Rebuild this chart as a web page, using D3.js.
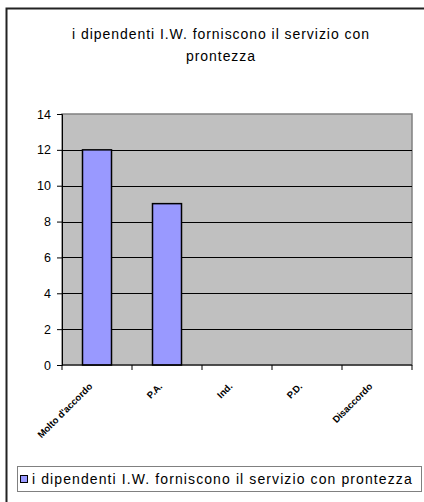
<!DOCTYPE html>
<html>
<head>
<meta charset="utf-8">
<script src="https://cdn.jsdelivr.net/npm/d3@7/dist/d3.min.js"></script>
<style>
body { margin:0; background:#fff; }
text { font-family: "Liberation Sans", Arial, sans-serif; }
</style>
</head>
<body>
<div id="chart"></div>
<script>
var categorie = ["Molto d'accordo", "P.A.", "Ind.", "P.D.", "Disaccordo"];
var valori = [12, 9, 0, 0, 0];
var yTicks = [0, 2, 4, 6, 8, 10, 12, 14];
var titolo = ["i dipendenti I.W. forniscono il servizio con", "prontezza"];
var serie = "i dipendenti I.W. forniscono il servizio con prontezza";

var w = 424, h = 502;
var plot = {left:62, right:412, top:114, bottom:365};

var svg = d3.select("#chart").append("svg")
  .attr("width", w)
  .attr("height", h);

// cornice esterna
svg.append("path")
  .attr("d", "M6.5," + h + "V8.5H" + w)
  .attr("fill", "none")
  .attr("stroke", "#222")
  .attr("stroke-width", 2);

// titolo
svg.selectAll("text.title")
  .data(titolo)
  .enter()
  .append("text")
  .attr("class", "title")
  .attr("x", 221)
  .attr("y", function(d, i){ return 39 + i*22; })
  .attr("text-anchor", "middle")
  .attr("font-size", 14)
  .attr("letter-spacing", 0.95)
  .text(function(d){ return d; });

var xTick = d3.scaleBand()
  .domain(categorie)
  .range([plot.left, plot.right]);

var y = d3.scaleLinear()
  .domain([0, 14])
  .range([plot.bottom, plot.top]);

// area del grafico
svg.append("rect")
  .attr("x", plot.left)
  .attr("y", plot.top)
  .attr("width", plot.right - plot.left)
  .attr("height", plot.bottom - plot.top)
  .attr("fill", "#c0c0c0")
  .attr("stroke", "#808080")
  .attr("stroke-width", 1.5);

// griglia
svg.append("g")
  .selectAll("line")
  .data(yTicks.filter(function(d){ return d > 0 && d < 14; }))
  .enter()
  .append("line")
  .attr("x1", plot.left)
  .attr("x2", plot.right)
  .attr("y1", function(d){ return Math.round(y(d)) + 0.5; })
  .attr("y2", function(d){ return Math.round(y(d)) + 0.5; })
  .attr("stroke", "#000");

// barre
svg.append("g")
  .selectAll("rect")
  .data(valori)
  .enter()
  .append("rect")
  .attr("x", function(d, i){ return xTick(categorie[i]) + (xTick.bandwidth() - 29) / 2; })
  .attr("y", function(d){ return y(d); })
  .attr("width", 29)
  .attr("height", function(d){ return plot.bottom - y(d); })
  .attr("fill", "#9999ff")
  .attr("stroke", "#000")
  .attr("stroke-width", 1.5)
  .style("display", function(d){ return d > 0 ? null : "none"; });

// asse y
var yAxis = d3.axisLeft(y)
  .tickValues(yTicks)
  .tickSize(5)
  .tickPadding(6);

var gy = svg.append("g")
  .attr("transform", "translate(" + plot.left + ",0)")
  .call(yAxis);
gy.select(".domain").attr("stroke", "#000");
gy.selectAll(".tick line").attr("stroke", "#000");
gy.selectAll("text")
  .attr("font-size", 12.5)
  .attr("fill", "#000")
  .style("font-family", "'Liberation Sans', Arial, sans-serif");

// asse x
var gx = svg.append("g")
  .attr("transform", "translate(0," + plot.bottom + ")");
gx.append("line")
  .attr("x1", plot.left)
  .attr("x2", plot.right)
  .attr("stroke", "#000");
gx.selectAll("line.tk")
  .data(categorie.concat(["fine"]))
  .enter()
  .append("line")
  .attr("class", "tk")
  .attr("x1", function(d, i){ return plot.left + i * xTick.bandwidth(); })
  .attr("x2", function(d, i){ return plot.left + i * xTick.bandwidth(); })
  .attr("y1", 0)
  .attr("y2", 5)
  .attr("stroke", "#000");

gx.selectAll("text")
  .data(categorie)
  .enter()
  .append("text")
  .attr("transform", function(d){
    return "translate(" + (xTick(d) + xTick.bandwidth()/2 - 4) + ",22) rotate(-45)";
  })
  .attr("text-anchor", "end")
  .attr("font-size", 9.5)
  .attr("font-weight", "bold")
  .text(function(d){ return d; });

// legenda
var leg = svg.append("g");
leg.append("rect")
  .attr("x", 17.5)
  .attr("y", 466.5)
  .attr("width", 404)
  .attr("height", 25)
  .attr("fill", "#fff")
  .attr("stroke", "#808080");
leg.append("rect")
  .attr("x", 20.5)
  .attr("y", 475.5)
  .attr("width", 7)
  .attr("height", 7)
  .attr("fill", "#9999ff")
  .attr("stroke", "#000");
leg.append("text")
  .attr("x", 32)
  .attr("y", 484)
  .attr("font-size", 14)
  .attr("letter-spacing", 1.1)
  .text(serie);
</script>
</body>
</html>
